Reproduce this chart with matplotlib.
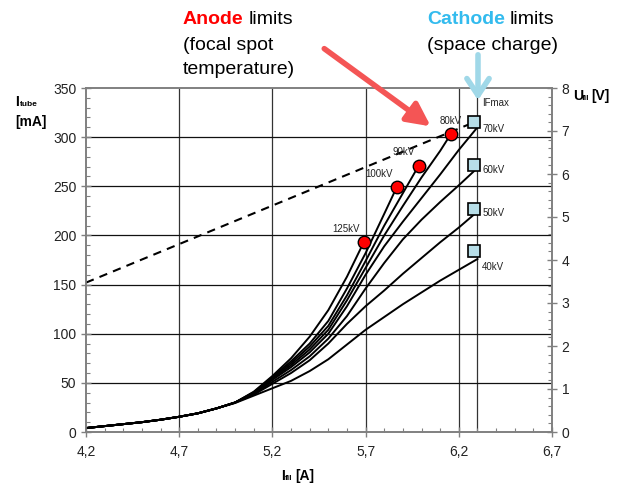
import numpy as np
import matplotlib.pyplot as plt
from matplotlib.ticker import FixedLocator, MultipleLocator, FuncFormatter
from matplotlib.patches import FancyArrowPatch

plt.rcParams['font.family'] = ['Liberation Sans', 'DejaVu Sans']

# filament current [A] / tube current [mA] curves, one per tube voltage
x_common = [4.2, 4.3, 4.4, 4.5, 4.6, 4.7, 4.8, 4.9, 5.0]
y_common = [4, 6, 8, 10, 12.5, 15.5, 19, 24, 30]

kv_125_x = x_common + [5.1, 5.2, 5.3, 5.4, 5.5, 5.6, 5.69]
kv_125_y = y_common + [41, 57, 75, 97, 124, 158, 193]

kv_100_x = x_common + [5.1, 5.2, 5.3, 5.4, 5.5, 5.6, 5.7, 5.8, 5.867]
kv_100_y = y_common + [40.5, 56, 72, 90, 113, 146, 182, 222, 249]

kv_90_x = x_common + [5.1, 5.2, 5.3, 5.4, 5.5, 5.6, 5.7, 5.8, 5.9, 5.985]
kv_90_y = y_common + [40, 55, 70, 87, 108, 139, 174, 210, 243, 271]

kv_80_x = x_common + [5.1, 5.2, 5.3, 5.4, 5.5, 5.6, 5.7, 5.8, 5.9, 6.0, 6.1, 6.157]
kv_80_y = y_common + [39.5, 54, 68, 84, 104, 134, 167, 200, 230, 259, 286, 303]

kv_70_x = x_common + [5.1, 5.2, 5.3, 5.4, 5.5, 5.6, 5.7, 5.8, 5.9, 6.0, 6.1, 6.2, 6.3]
kv_70_y = y_common + [39, 53, 66, 81, 100, 128, 160, 189, 214, 238, 262, 287, 310]

kv_60_x = x_common + [5.1, 5.2, 5.3, 5.4, 5.5, 5.6, 5.7, 5.8, 5.9, 6.0, 6.1, 6.2, 6.285]
kv_60_y = y_common + [38.5, 51, 63, 77, 95, 118, 146, 172, 196, 216, 234, 251, 266]

kv_50_x = x_common + [5.1, 5.2, 5.3, 5.4, 5.5, 5.6, 5.7, 5.8, 5.9, 6.0, 6.1, 6.2, 6.28]
kv_50_y = y_common + [38, 49, 60, 73, 90, 110, 128, 144, 161, 177, 193, 208, 221]

kv_40_x = x_common + [5.1, 5.2, 5.3, 5.4, 5.5, 5.6, 5.7, 5.8, 5.9, 6.0, 6.1, 6.2, 6.3]
kv_40_y = y_common[:-1] + [29.5, 37, 44.5, 52, 62, 74, 89, 104, 117, 130, 142, 154, 165, 176]

curves_x = [kv_125_x, kv_100_x, kv_90_x, kv_80_x, kv_70_x, kv_60_x, kv_50_x, kv_40_x]
curves_y = [kv_125_y, kv_100_y, kv_90_y, kv_80_y, kv_70_y, kv_60_y, kv_50_y, kv_40_y]

# anode limits (red dots) and cathode limits (blue squares)
anode_x = [5.69, 5.867, 5.985, 6.157]
anode_y = [193, 249, 271, 303]
anode_lbl = ['125kV', '100kV', '90kV', '80kV']

cathode_x = [6.28, 6.28, 6.28, 6.28]
cathode_y = [315, 272, 227, 184]
cathode_lbl = ['70kV', '60kV', '50kV', '40kV']
cathode_lbl_y = [308, 267, 223, 168]

dash_x = [4.2, 6.28]
dash_y = [152, 315]

IFMAX = 6.3
xticks = [4.2, 4.7, 5.2, 5.7, 6.2, 6.7]

fig = plt.figure(figsize=(6.3, 4.88), dpi=100)
ax = fig.add_axes([86/630, 1-432/488, (552-86)/630, (432-88)/488])

gray = '#808080'
for xv in xticks[1:-1] + [IFMAX]:
    ax.axvline(xv, color='#333333', lw=0.9, zorder=1)
for yv in [50, 100, 150, 200, 250, 300]:
    ax.axhline(yv, color='#111111', lw=0.9, zorder=1)

for cx, cy in zip(curves_x, curves_y):
    ax.plot(cx, cy, color='black', lw=1.4, zorder=3, solid_joinstyle='round')

ax.plot(dash_x, dash_y, color='black', lw=1.5, ls=(0, (4, 3)), zorder=3)

ax.plot(anode_x, anode_y, 'o', ms=9, mfc='#FF0000', mec='black', mew=1, zorder=5)
ax.plot(cathode_x, cathode_y, 's', ms=9, mfc='#B7DEE8', mec='black', mew=1.2, zorder=5)

for xv, yv, t in zip(anode_x, anode_y, anode_lbl):
    ax.annotate(t, (xv, yv), xytext=(-3 if t != '80kV' else 0, 6), textcoords='offset points',
                ha='right' if t != '80kV' else 'center', va='bottom',
                fontsize=7, color='#222222', zorder=6)
for yv, t in zip(cathode_lbl_y, cathode_lbl):
    ax.text(IFMAX + 0.025, yv, t, fontsize=7, va='center', ha='left', color='#222222')
ax.text(IFMAX + 0.025, 335, 'IFmax', fontsize=7, va='center', ha='left', color='#222222')

ax.set_xlim(4.2, 6.7)
ax.set_ylim(0, 350)
ax.xaxis.set_major_locator(FixedLocator(xticks))
ax.xaxis.set_minor_locator(FixedLocator([4.2 + 0.1 * i for i in range(26)]))
ax.yaxis.set_major_locator(MultipleLocator(50))
ax.yaxis.set_minor_locator(MultipleLocator(10))
ax.xaxis.set_major_formatter(FuncFormatter(lambda v, p: ('%.1f' % v).replace('.', ',')))
ax.tick_params(which='major', direction='inout', length=7, width=1, color=gray,
               labelsize=10, labelcolor='#222222')
ax.tick_params(which='minor', direction='in', length=3, width=0.8, color=gray)
ax.tick_params(axis='x', pad=6)
for s in ax.spines.values():
    s.set_color(gray)
    s.set_linewidth(1.2)

ax2 = ax.twinx()
ax2.set_ylim(0, 8)
ax2.yaxis.set_major_locator(MultipleLocator(1))
ax2.yaxis.set_minor_locator(MultipleLocator(0.2))
ax2.tick_params(which='major', direction='inout', length=7, width=1, color=gray,
                labelsize=10, labelcolor='#222222')
ax2.tick_params(which='minor', direction='in', length=3, width=0.8, color=gray)
for s in ax2.spines.values():
    s.set_color(gray)
    s.set_linewidth(1.2)

# axis titles
def ftext(px, py, s, **kw):
    fig.text(px/630, 1-py/488, s, **kw)

ftext(15, 102, 'I', fontsize=10, fontweight='bold', va='center')
ftext(20, 105, 'tube', fontsize=6, fontweight='bold', va='center')
ftext(15, 122, '[mA]', fontsize=10, fontweight='bold', va='center')
ftext(573, 96, 'U', fontsize=10, fontweight='bold', va='center')
ftext(582, 99, 'fil', fontsize=6, fontweight='bold', va='center')
ftext(591, 96, '[V]', fontsize=10, fontweight='bold', va='center')
ftext(281, 476, 'I', fontsize=10, fontweight='bold', va='center')
ftext(285, 479, 'fil', fontsize=6, fontweight='bold', va='center')
ftext(295, 476, '[A]', fontsize=10, fontweight='bold', va='center')

# limits annotations
ftext(183, 19, 'Anode', fontsize=14, fontweight='bold', color='#FF0000', va='center')
ftext(249, 19, 'limits', fontsize=14, va='center')
ftext(183, 45, '(focal spot', fontsize=14, va='center')
ftext(183, 70, 'temperature)', fontsize=14, va='center')
ftext(427, 19, 'Cathode', fontsize=14, fontweight='bold', color='#33BBEE', va='center')
ftext(510, 19, 'limits', fontsize=14, va='center')
ftext(427, 45, '(space charge)', fontsize=14, va='center')

fig.patches.append(FancyArrowPatch(
    (322/630, 1-47/488), (433/630, 1-128/488), transform=fig.transFigure,
    arrowstyle='-|>,head_length=14,head_width=7', color='#F45555', lw=4,
    mutation_scale=1, zorder=10))
fig.patches.append(FancyArrowPatch(
    (478/630, 1-52/488), (478/630, 1-103/488), transform=fig.transFigure,
    arrowstyle='->,head_length=12,head_width=8', color='#A0D8E8', lw=4,
    mutation_scale=1, zorder=10))

fig.savefig('out.png', dpi=100)
